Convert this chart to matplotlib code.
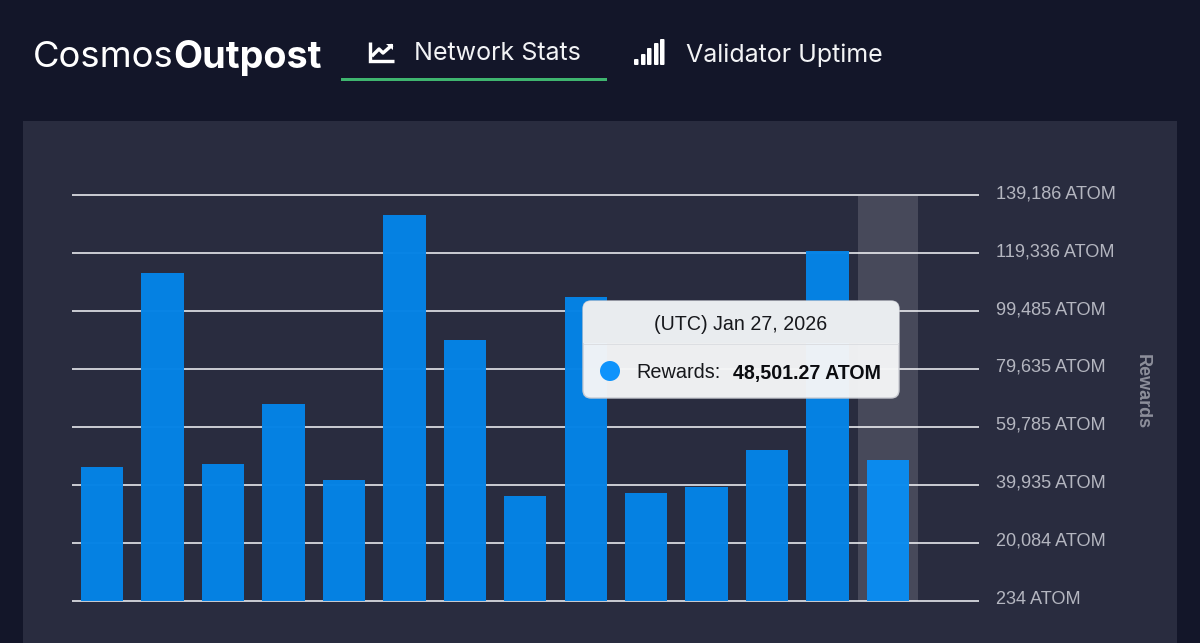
import matplotlib
matplotlib.use("Agg")
import matplotlib.pyplot as plt
from matplotlib.patches import Rectangle, FancyBboxPatch, Circle, Polygon
from matplotlib.transforms import ScaledTranslation

dates = ["Jan 14", "Jan 15", "Jan 16", "Jan 17", "Jan 18", "Jan 19", "Jan 20", "Jan 21",
         "Jan 22", "Jan 23", "Jan 24", "Jan 25", "Jan 26", "Jan 27"]
rewards = [46150, 112650, 47200, 67750, 41700, 132500, 89700, 36200,
           104400, 37250, 39300, 52000, 120200, 48501.27]
tick_values = [234, 20084, 39935, 59785, 79635, 99485, 119336, 139186]
tick_labels = ["234 ATOM", "20,084 ATOM", "39,935 ATOM", "59,785 ATOM",
               "79,635 ATOM", "99,485 ATOM", "119,336 ATOM", "139,186 ATOM"]
y_title = "Rewards"
active_index = 13

W, H = 1200, 643
BG = "#131629"
PANEL = "#292c3f"
SANS = ["Liberation Sans", "DejaVu Sans"]
HEAD = ["Inter", "DejaVu Sans"]
px = 0.72  # pixel -> point at dpi 100

fig = plt.figure(figsize=(W / 100, H / 100), dpi=100, facecolor=BG)

# background layer in pixel coordinates
bg = fig.add_axes([0, 0, 1, 1], zorder=0)
bg.set_xlim(0, W); bg.set_ylim(H, 0); bg.axis("off")
bg.add_patch(Rectangle((23, 121), 1154, 522, fc=PANEL, ec="none"))

# chart
left, right, top, bottom = 72, 978.5, 195.5, 601
ax = fig.add_axes([left / W, 1 - bottom / H, (right - left) / W, (bottom - top) / H], zorder=1)
ax.patch.set_alpha(0)
ax.set_xlim(-0.5, 14.5)
ax.set_ylim(tick_values[0], tick_values[-1])
for s in ax.spines.values():
    s.set_visible(False)
ax.set_xticks([])
ax.yaxis.tick_right()
ax.set_yticks(tick_values)
ax.set_yticklabels(tick_labels, fontsize=18.1 * px, color="#b4b6c0", family=SANS)
ax.tick_params(axis="y", length=0, pad=12.5)
shift = ScaledTranslation(0, 1.8 / 100, fig.dpi_scale_trans)
for lab in ax.get_yticklabels():
    lab.set_verticalalignment("center")
    lab.set_transform(lab.get_transform() + shift)
for v in tick_values:
    ax.plot([0, 1], [v, v], transform=ax.get_yaxis_transform(), color="#d8dae0",
            lw=1.8 * px, zorder=1, clip_on=False, solid_capstyle="butt")
ax.axvspan(active_index - 0.5, active_index + 0.5, color="#ffffff", alpha=0.14, lw=0, zorder=1.5)
colors = ["#0a8cf0" if i == active_index else "#0583e6" for i in range(len(rewards))]
ax.bar(range(len(rewards)), rewards, width=0.7, color=colors, alpha=0.985,
       linewidth=0, zorder=2, bottom=0)

# overlay in pixel coordinates
ov = fig.add_axes([0, 0, 1, 1], zorder=3)
ov.set_xlim(0, W); ov.set_ylim(H, 0); ov.axis("off"); ov.patch.set_alpha(0)

ov.text(1142, 392, y_title, rotation=270, ha="center", va="center", fontsize=18 * px,
        color="#8d8f9b", fontweight="bold", family=SANS)

# header
ov.text(33, 57.5, "Cosmos", fontsize=36.5 * px, color="#ffffff", family=HEAD,
        fontweight="normal", va="center", ha="left")
ov.text(173.5, 57.5, "Outpost", fontsize=37.8 * px, color="#ffffff", family=HEAD,
        fontweight="bold", va="center", ha="left")
ov.text(414, 53, "Network Stats", fontsize=25 * px, color="#f2f3f5", family=HEAD,
        va="center", ha="left")
ov.text(686, 55, "Validator Uptime", fontsize=25 * px, color="#f2f3f5", family=HEAD,
        va="center", ha="left")
ov.add_patch(Rectangle((341, 78), 266, 3, fc="#3fb56f", ec="none"))

# line-chart icon
ov.plot([369.5, 369.5, 394], [42, 60.5, 60.5], color="#ffffff", lw=3.4 * px, solid_capstyle="butt",
        solid_joinstyle="miter")
ov.plot([373, 379, 383, 391], [55, 49, 53, 46], color="#ffffff", lw=3.4 * px)
ov.add_patch(Polygon([[386, 44], [393, 44], [393, 50]], fc="#ffffff", ec="none"))

# signal-bars icon
for x0, h in zip([634, 641, 647, 654, 660], [6, 11, 17, 22, 26]):
    ov.add_patch(FancyBboxPatch((x0 + 0.8, 65 - h + 0.8), 2.9, h - 1.6,
                                boxstyle="round,pad=0.8,rounding_size=1",
                                fc="#ffffff", ec="none"))

# tooltip
box = FancyBboxPatch((589, 307), 304, 85, boxstyle="round,pad=6,rounding_size=8",
                     fc="#f5f6f7", ec="#c9cbd2", lw=1, alpha=0.97)
ov.add_patch(box)
head = Rectangle((583, 301), 316, 42, fc="#e9ecef", ec="none", alpha=0.97)
ov.add_patch(head)
head.set_clip_path(box)
ov.plot([584, 898], [343.5, 343.5], color="#dcdee2", lw=1 * px)
ov.text(740.5, 324, "(UTC) " + dates[active_index] + ", 2026", ha="center", va="center",
        fontsize=19.7 * px, color="#17181c", family=SANS)
ov.add_patch(Circle((610, 371), 10, fc="#0f93fb", ec="none"))
ov.text(636, 373, y_title + ":", ha="left", va="center", fontsize=19.9 * px,
        color="#17181c", family=SANS)
ov.text(733, 373, f"{rewards[active_index]:,.2f} ATOM", ha="left", va="center",
        fontsize=19.7 * px, color="#0b0c10", fontweight="bold", family=SANS)

fig.savefig("out.png", dpi=100, facecolor=BG)
